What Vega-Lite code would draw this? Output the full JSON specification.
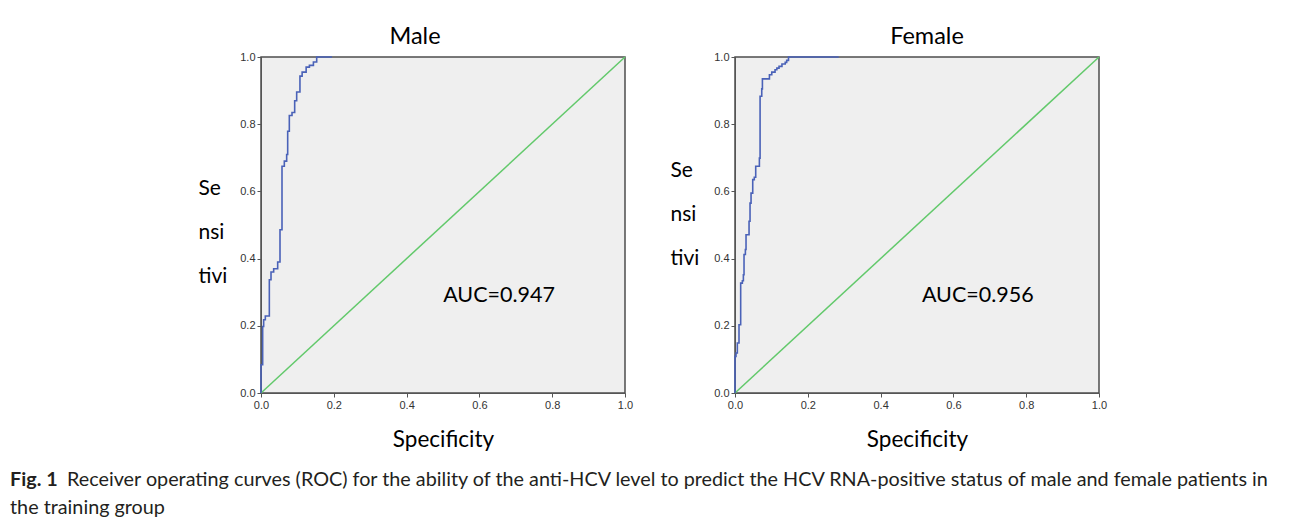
{
  "$schema": "https://vega.github.io/schema/vega-lite/v6.json",
  "background": "white",
  "padding": {"left": 10, "top": 23, "right": 0, "bottom": 0},
  "bounds": "flush",
  "columns": 2,
  "spacing": {"row": 73, "column": 110},
  "config": {
    "view": {"fill": "#efefef", "stroke": "#4d4d4d", "strokeWidth": 1.5},
    "font": "Lato",
    "axis": {
      "grid": false,
      "labelFlush": false,
      "labelOverlap": false,
      "domainColor": "#555555",
      "tickColor": "#555555",
      "tickSize": 4,
      "labelFont": "Liberation Sans",
      "labelFontSize": 11,
      "labelColor": "#333333",
      "labelPadding": 2,
      "titleFont": "Lato",
      "titleFontWeight": "normal",
      "titleFontSize": 21,
      "titleColor": "#000000"
    },
    "title": {"font": "Lato", "fontWeight": "normal", "fontSize": 23.5, "color": "#000000", "offset": 3}
  },
  "datasets": {
    "diag": [{"x": 0, "y": 0}, {"x": 1, "y": 1}],
    "male": [
      {"x": 0, "y": 0}, {"x": 0, "y": 0.084}, {"x": 0.0046, "y": 0.198}, {"x": 0.0073, "y": 0.218},
      {"x": 0.0119, "y": 0.229}, {"x": 0.0229, "y": 0.337}, {"x": 0.0275, "y": 0.36}, {"x": 0.0348, "y": 0.37},
      {"x": 0.0458, "y": 0.39}, {"x": 0.0522, "y": 0.486}, {"x": 0.0577, "y": 0.675}, {"x": 0.0641, "y": 0.69},
      {"x": 0.0705, "y": 0.71}, {"x": 0.0733, "y": 0.779}, {"x": 0.0778, "y": 0.826}, {"x": 0.0852, "y": 0.835},
      {"x": 0.0925, "y": 0.87}, {"x": 0.098, "y": 0.896}, {"x": 0.107, "y": 0.943}, {"x": 0.113, "y": 0.955},
      {"x": 0.124, "y": 0.97}, {"x": 0.133, "y": 0.975}, {"x": 0.144, "y": 0.985}, {"x": 0.153, "y": 1.0},
      {"x": 0.195, "y": 1.0}
    ],
    "female": [
      {"x": 0, "y": 0}, {"x": 0, "y": 0.109}, {"x": 0.0028, "y": 0.119}, {"x": 0.0064, "y": 0.149},
      {"x": 0.011, "y": 0.203}, {"x": 0.0156, "y": 0.327}, {"x": 0.0202, "y": 0.334}, {"x": 0.023, "y": 0.352},
      {"x": 0.0248, "y": 0.412}, {"x": 0.0285, "y": 0.427}, {"x": 0.0303, "y": 0.471}, {"x": 0.0386, "y": 0.511},
      {"x": 0.0413, "y": 0.565}, {"x": 0.0441, "y": 0.595}, {"x": 0.0487, "y": 0.635}, {"x": 0.053, "y": 0.642},
      {"x": 0.0569, "y": 0.675}, {"x": 0.067, "y": 0.699}, {"x": 0.0689, "y": 0.883}, {"x": 0.0735, "y": 0.905},
      {"x": 0.0753, "y": 0.935}, {"x": 0.0946, "y": 0.947}, {"x": 0.101, "y": 0.955}, {"x": 0.11, "y": 0.962},
      {"x": 0.115, "y": 0.967}, {"x": 0.121, "y": 0.972}, {"x": 0.129, "y": 0.979}, {"x": 0.138, "y": 0.984},
      {"x": 0.142, "y": 0.99}, {"x": 0.147, "y": 1.0}, {"x": 0.285, "y": 1.0}
    ],
    "aucMale": [{"x": 0.654, "y": 0.289, "label": "AUC=0.947"}],
    "aucFemale": [{"x": 0.667, "y": 0.289, "label": "AUC=0.956"}],
    "caption": [
      {"row": 1, "part": "bold", "text": "Fig. 1"},
      {"row": 1, "part": "body", "text": "Receiver operating curves (ROC) for the ability of the anti-HCV level to predict the HCV RNA-positive status of male and female patients in"},
      {"row": 2, "part": "body", "text": "the training group"}
    ]
  },
  "concat": [
    {
      "width": 364,
      "height": 336,
      "title": {"text": "Male", "dx": -28},
      "encoding": {
        "x": {"field": "x", "type": "quantitative", "scale": {"domain": [0, 1]},
              "axis": {"values": [0, 0.2, 0.4, 0.6, 0.8, 1.0], "format": ".1f", "title": "Specificity", "titlePadding": 18, "titleFontSize": 22.5}},
        "y": {"field": "y", "type": "quantitative", "scale": {"domain": [0, 1]},
              "axis": {"values": [0, 0.2, 0.4, 0.6, 0.8, 1.0], "format": ".1f", "title": ["Se", "nsi", "tivi"],
                       "titleAngle": 0, "titleAlign": "left", "titleBaseline": "top", "titleX": -63, "titleY": 120, "titleLineHeight": 44}}
      },
      "layer": [
        {"data": {"name": "diag"}, "mark": {"type": "line", "color": "#62c96b", "strokeWidth": 1.5}},
        {"data": {"name": "male"}, "mark": {"type": "line", "interpolate": "step-after", "color": "#4a62b8", "strokeWidth": 1.6},
         "encoding": {"order": [{"field": "y", "type": "quantitative"}, {"field": "x", "type": "quantitative"}]}},
        {"data": {"name": "aucMale"}, "mark": {"type": "text", "fontSize": 21.5, "font": "Lato", "color": "#000000"},
         "encoding": {"text": {"field": "label"}}}
      ]
    },
    {
      "width": 364,
      "height": 336,
      "title": {"text": "Female", "dx": 10},
      "encoding": {
        "x": {"field": "x", "type": "quantitative", "scale": {"domain": [0, 1]},
              "axis": {"values": [0, 0.2, 0.4, 0.6, 0.8, 1.0], "format": ".1f", "title": "Specificity", "titlePadding": 18, "titleFontSize": 22.5}},
        "y": {"field": "y", "type": "quantitative", "scale": {"domain": [0, 1]},
              "axis": {"values": [0, 0.2, 0.4, 0.6, 0.8, 1.0], "format": ".1f", "title": ["Se", "nsi", "tivi"],
                       "titleAngle": 0, "titleAlign": "left", "titleBaseline": "top", "titleX": -65, "titleY": 102, "titleLineHeight": 44}}
      },
      "layer": [
        {"data": {"name": "diag"}, "mark": {"type": "line", "color": "#62c96b", "strokeWidth": 1.5}},
        {"data": {"name": "female"}, "mark": {"type": "line", "interpolate": "step-after", "color": "#4a62b8", "strokeWidth": 1.6},
         "encoding": {"order": [{"field": "y", "type": "quantitative"}, {"field": "x", "type": "quantitative"}]}},
        {"data": {"name": "aucFemale"}, "mark": {"type": "text", "fontSize": 21.5, "font": "Lato", "color": "#000000"},
         "encoding": {"text": {"field": "label"}}}
      ]
    },
    {
      "width": 364,
      "height": 56,
      "view": {"fill": null, "stroke": null},
      "data": {"name": "caption"},
      "encoding": {
        "x": {"datum": 0, "type": "quantitative", "scale": {"domain": [0, 1]}, "axis": null},
        "y": {"field": "row", "type": "ordinal", "axis": null, "scale": {"paddingInner": 0, "paddingOuter": 0}},
        "text": {"field": "text"}
      },
      "layer": [
        {"transform": [{"filter": "datum.part === 'bold'"}],
         "mark": {"type": "text", "align": "left", "font": "Lato", "fontSize": 19.8, "fontWeight": "bold", "color": "#231f20", "dx": -251}},
        {"transform": [{"filter": "datum.part === 'body' && datum.row === 1"}],
         "mark": {"type": "text", "align": "left", "font": "Lato", "fontSize": 19.8, "color": "#231f20", "dx": -194}},
        {"transform": [{"filter": "datum.part === 'body' && datum.row === 2"}],
         "mark": {"type": "text", "align": "left", "font": "Lato", "fontSize": 19.8, "color": "#231f20", "dx": -251}}
      ]
    }
  ]
}
